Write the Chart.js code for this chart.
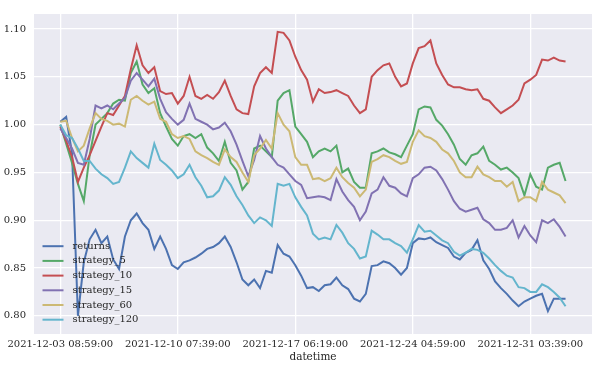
<!DOCTYPE html>
<html>
<head>
<meta charset="utf-8">
<script src="https://cdn.jsdelivr.net/npm/chart.js@4/dist/chart.umd.min.js"></script>
<style>
  body { margin: 0; background: #ffffff; }
  canvas { display: block; }
</style>
</head>
<body>
<canvas id="grafico" width="597" height="370"></canvas>
<script>
// one point every 500 minutes, starting 2021-12-03 08:59:00
const stepMinutes = 500;
const tickEveryMinutes = 10000;
const xTickLabels = ['2021-12-03 08:59:00', '2021-12-10 07:39:00', '2021-12-17 06:19:00', '2021-12-24 04:59:00', '2021-12-31 03:39:00'];
const yTickValues = [0.80, 0.85, 0.90, 0.95, 1.00, 1.05, 1.10];

const seriesNames = ['returns', 'strategy_5', 'strategy_10', 'strategy_15', 'strategy_60', 'strategy_120'];
const seriesColors = ['#4c72b0', '#55a868', '#c44e52', '#8172b2', '#ccb974', '#64b5cd'];

const returns = [1.003, 1.008, 0.970, 0.800, 0.856, 0.880, 0.890, 0.876, 0.883, 0.859,
  0.849, 0.883, 0.900, 0.907, 0.897, 0.890, 0.870, 0.883, 0.870, 0.853,
  0.849, 0.856, 0.858, 0.861, 0.865, 0.870, 0.872, 0.876, 0.883, 0.872,
  0.856, 0.838, 0.832, 0.838, 0.829, 0.847, 0.845, 0.874, 0.865, 0.862,
  0.853, 0.842, 0.829, 0.830, 0.826, 0.832, 0.833, 0.840, 0.832, 0.828,
  0.818, 0.815, 0.823, 0.852, 0.853, 0.857, 0.855, 0.850, 0.843, 0.850,
  0.876, 0.881, 0.880, 0.882, 0.877, 0.874, 0.871, 0.862, 0.859, 0.866,
  0.869, 0.879, 0.858, 0.849, 0.836, 0.829, 0.823, 0.816, 0.810, 0.815,
  0.818, 0.821, 0.823, 0.805, 0.818, 0.818, 0.818];

const strategy5 = [1.000, 0.980, 0.960, 0.938, 0.920, 0.968, 1.000, 1.006, 1.012, 1.022,
  1.026, 1.025, 1.054, 1.066, 1.042, 1.033, 1.038, 1.012, 0.998, 0.985,
  0.978, 0.988, 0.990, 0.986, 0.990, 0.976, 0.970, 0.962, 0.982, 0.960,
  0.952, 0.932, 0.940, 0.975, 0.978, 0.972, 0.966, 1.025, 1.033, 1.036,
  0.998, 0.990, 0.982, 0.966, 0.972, 0.975, 0.972, 0.978, 0.950, 0.954,
  0.940, 0.934, 0.934, 0.970, 0.972, 0.975, 0.971, 0.969, 0.966, 0.978,
  0.990, 1.016, 1.019, 1.018, 1.005, 0.999, 0.990, 0.979, 0.964, 0.958,
  0.968, 0.970, 0.977, 0.962, 0.958, 0.953, 0.955, 0.950, 0.944, 0.926,
  0.948, 0.935, 0.932, 0.955, 0.958, 0.960, 0.941];

const strategy10 = [0.998, 0.983, 0.966, 0.940, 0.955, 0.968, 0.983, 0.998, 1.012, 1.010,
  1.020, 1.030, 1.058, 1.083, 1.062, 1.054, 1.060, 1.035, 1.032, 1.033,
  1.022, 1.030, 1.050, 1.030, 1.027, 1.031, 1.027, 1.034, 1.046, 1.030,
  1.016, 1.012, 1.011, 1.040, 1.054, 1.060, 1.054, 1.097, 1.096, 1.088,
  1.071, 1.057, 1.047, 1.024, 1.037, 1.033, 1.034, 1.036, 1.033, 1.030,
  1.020, 1.012, 1.016, 1.050, 1.057, 1.062, 1.064, 1.050, 1.040, 1.043,
  1.064, 1.080, 1.082, 1.088, 1.064, 1.052, 1.042, 1.039, 1.039, 1.037,
  1.036, 1.037, 1.027, 1.025, 1.018, 1.012, 1.016, 1.020, 1.026, 1.043,
  1.047, 1.052, 1.068, 1.067, 1.070, 1.067, 1.066];

const strategy15 = [0.996, 0.986, 0.975, 0.960, 0.958, 0.985, 1.020, 1.017, 1.020, 1.016,
  1.022, 1.028, 1.046, 1.054, 1.047, 1.040, 1.048, 1.027, 1.013, 1.006,
  1.000, 1.005, 1.022, 1.006, 1.003, 1.000, 0.995, 0.997, 1.002, 0.993,
  0.979, 0.962, 0.946, 0.963, 0.988, 0.975, 0.966, 0.958, 0.955, 0.948,
  0.941, 0.937, 0.923, 0.924, 0.925, 0.924, 0.921, 0.943, 0.930, 0.921,
  0.914, 0.900, 0.909, 0.928, 0.932, 0.945, 0.936, 0.934, 0.928, 0.925,
  0.944, 0.948, 0.955, 0.956, 0.952, 0.943, 0.932, 0.920, 0.912, 0.909,
  0.911, 0.913, 0.901, 0.897, 0.890, 0.890, 0.892, 0.900, 0.882, 0.894,
  0.884, 0.877, 0.900, 0.897, 0.901, 0.893, 0.883];

const strategy60 = [1.003, 1.004, 0.986, 0.972, 0.978, 0.996, 1.012, 1.006, 1.004, 1.000,
  1.001, 0.998, 1.026, 1.030, 1.025, 1.021, 1.024, 1.006, 1.003, 0.990,
  0.986, 0.988, 0.985, 0.972, 0.968, 0.965, 0.961, 0.958, 0.974, 0.966,
  0.961, 0.950, 0.940, 0.968, 0.975, 0.984, 0.975, 1.012, 1.000, 0.993,
  0.966, 0.958, 0.958, 0.943, 0.944, 0.941, 0.944, 0.955, 0.945, 0.939,
  0.934, 0.925, 0.932, 0.961, 0.964, 0.968, 0.966, 0.962, 0.959, 0.961,
  0.982, 0.994, 0.988, 0.986, 0.982, 0.974, 0.970, 0.962, 0.950, 0.945,
  0.945, 0.956, 0.948, 0.945, 0.941, 0.941, 0.935, 0.940, 0.920, 0.924,
  0.924, 0.920, 0.940, 0.932, 0.929, 0.926, 0.918];

const strategy120 = [1.000, 0.989, 0.986, 0.975, 0.962, 0.962, 0.954, 0.948, 0.944, 0.938,
  0.940, 0.955, 0.972, 0.965, 0.960, 0.955, 0.980, 0.963, 0.958, 0.952,
  0.944, 0.948, 0.958, 0.945, 0.936, 0.924, 0.925, 0.931, 0.945, 0.937,
  0.925, 0.916, 0.905, 0.897, 0.903, 0.900, 0.894, 0.938, 0.936, 0.938,
  0.924, 0.914, 0.905, 0.886, 0.880, 0.882, 0.880, 0.895, 0.887, 0.876,
  0.870, 0.860, 0.862, 0.889, 0.885, 0.880, 0.880, 0.876, 0.873, 0.866,
  0.880, 0.895, 0.888, 0.889, 0.884, 0.879, 0.876, 0.867, 0.863, 0.866,
  0.870, 0.869, 0.866, 0.860, 0.853, 0.847, 0.842, 0.840, 0.830, 0.829,
  0.825, 0.825, 0.833, 0.830, 0.825, 0.819, 0.810];

const seriesValues = [returns, strategy5, strategy10, strategy15, strategy60, strategy120];

Chart.defaults.font.family = "'DejaVu Serif', serif";
Chart.defaults.font.size = 10;
Chart.defaults.color = '#262626';

// fundo cinza da área do gráfico (estilo seaborn darkgrid)
const fundoPlugin = {
    id: 'fundo',
    beforeDraw(chart) {
        const { ctx, chartArea } = chart;
        ctx.save();
        ctx.fillStyle = '#eaeaf2';
        ctx.fillRect(chartArea.left, chartArea.top, chartArea.right - chartArea.left, chartArea.bottom - chartArea.top);
        ctx.restore();
    }
};

// legenda no canto inferior esquerdo, sem moldura
const legendaPlugin = {
    id: 'legenda',
    afterDatasetsDraw(chart) {
        const { ctx, chartArea } = chart;
        const rowH = 14.7;
        const x0 = chartArea.left + 8.5;
        let y = chartArea.bottom - 14.3 - rowH * (seriesNames.length - 1);
        ctx.save();
        ctx.font = "10px 'DejaVu Serif'";
        ctx.textBaseline = 'middle';
        ctx.textAlign = 'left';
        seriesNames.forEach((name, i) => {
            ctx.strokeStyle = seriesColors[i];
            ctx.lineWidth = 2;
            ctx.beginPath();
            ctx.moveTo(x0, y);
            ctx.lineTo(x0 + 21, y);
            ctx.stroke();
            ctx.fillStyle = '#262626';
            ctx.fillText(name, x0 + 30, y);
            y += rowH;
        });
        ctx.restore();
    }
};

const ctx = document.getElementById('grafico').getContext('2d');
new Chart(ctx, {
    type: 'line',
    data: {
        datasets: seriesNames.map((name, i) => ({
            label: name,
            data: seriesValues[i].map((v, k) => ({ x: k * stepMinutes, y: v })),
            borderColor: seriesColors[i],
            backgroundColor: seriesColors[i],
            borderWidth: 2,
            pointRadius: 0,
            tension: 0,
            order: seriesNames.length - i
        }))
    },
    options: {
        responsive: false,
        animation: false,
        devicePixelRatio: 1,
        layout: { padding: { left: 0, right: 5, top: 8, bottom: 0 } },
        plugins: {
            legend: { display: false },
            tooltip: { enabled: false }
        },
        scales: {
            x: {
                type: 'linear',
                min: -2238,
                max: 45251,
                afterBuildTicks: axis => {
                    axis.ticks = xTickLabels.map((l, i) => ({ value: i * tickEveryMinutes }));
                },
                afterFit: axis => { axis.height = 36; },
                border: { display: false },
                grid: { color: '#ffffff', lineWidth: 1.3, drawTicks: false },
                ticks: {
                    padding: 4,
                    autoSkip: false,
                    maxRotation: 0,
                    callback: (v, i) => xTickLabels[i]
                },
                title: {
                    display: true,
                    text: 'datetime',
                    font: { size: 10.5 },
                    padding: { top: 0, bottom: 6 }
                }
            },
            y: {
                min: 0.781,
                max: 1.1157,
                afterBuildTicks: axis => {
                    axis.ticks = yTickValues.map(v => ({ value: v }));
                },
                afterFit: axis => { axis.width = 34; },
                border: { display: false },
                grid: { color: '#ffffff', lineWidth: 1.3, drawTicks: false },
                ticks: {
                    padding: 8,
                    callback: v => v.toFixed(2)
                }
            }
        }
    },
    plugins: [fundoPlugin, legendaPlugin]
});
</script>
</body>
</html>
